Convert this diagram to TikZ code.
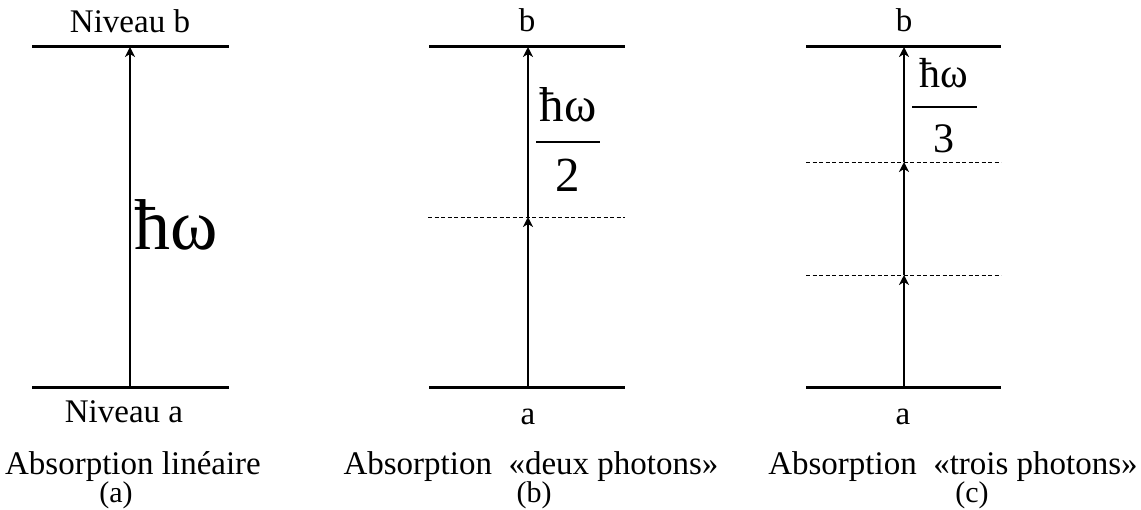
\documentclass[tikz,border=0pt]{standalone}
\usepackage{fontspec}
\setmainfont{Liberation Serif}
\usetikzlibrary{arrows.meta}
\begin{document}
\begin{tikzpicture}[x=1pt,y=-1pt,
  level/.style={line width=3pt},
  virt/.style={line width=0.9pt, dash pattern=on 4pt off 2.5pt},
  trans/.style={line width=1.8pt, -{Stealth[length=10pt,width=10pt,inset=3pt]}},
  lab/.style={inner sep=0pt, anchor=base, font=\fontsize{33}{40}\selectfont},
  tag/.style={inner sep=0pt, anchor=base, font=\fontsize{30}{36}\selectfont},
  big/.style={inner sep=0pt, anchor=base, font=\fontsize{72}{80}\selectfont},
  medf/.style={inner sep=0pt, anchor=base, font=\fontsize{49}{56}\selectfont},
  smlf/.style={inner sep=0pt, anchor=base, font=\fontsize{42}{48}\selectfont},
  bar/.style={line width=1.8pt}]
\useasboundingbox (0,0) rectangle (1141,510);

% ---------- (a) ----------
\draw[level] (32,47) -- (229,47);
\draw[level] (32,388) -- (229,388);
\coordinate (a0) at (130,388);
\coordinate (a1) at (130,47);
\draw[trans] (a0) -- (a1);
\node[lab] (nb) at (130,33) {Niveau b};
\node[lab] (na) at (124,423) {Niveau a};
\node[big, anchor=base west] (hwa) at (134,250) {ħω};
\node[lab] (ta) at (133,475) {Absorption linéaire};
\node[tag] (la) at (116,503) {(a)};

% ---------- (b) ----------
\draw[level] (429,47) -- (625,47);
\draw[level] (429,388) -- (625,388);
\draw[virt] (428,217) -- (625,217);
\coordinate (b0) at (528,388);
\coordinate (b1) at (528,217);
\coordinate (b2) at (528,47);
\draw[trans] (b0) -- (b1);
\draw[trans] (b1) -- (b2);
\node[lab] (bb) at (527,32) {b};
\node[lab] (ba) at (528,425) {a};
\node[medf] (hwb) at (568,122) {ħω};
\draw[bar] (536,142) -- (600,142);
\node[medf] (db) at (568,192) {2};
\node[lab] (tb) at (531,475) {Absorption\ \ «deux photons»};
\node[tag] (lb) at (534,503) {(b)};

% ---------- (c) ----------
\draw[level] (806,47) -- (1001,47);
\draw[level] (806,388) -- (1001,388);
\draw[virt] (806,162) -- (1001,162);
\draw[virt] (806,275) -- (1001,275);
\coordinate (c0) at (904,388);
\coordinate (c1) at (904,275);
\coordinate (c2) at (904,162);
\coordinate (c3) at (904,47);
\draw[trans] (c0) -- (c1);
\draw[trans] (c1) -- (c2);
\draw[trans] (c2) -- (c3);
\node[lab] (cb) at (904,32) {b};
\node[lab] (ca) at (903,425) {a};
\node[smlf] (hwc) at (944,88) {ħω};
\draw[bar] (912,107) -- (977,107);
\node[smlf] (dc) at (944,153) {3};
\node[lab] (tc) at (953,475) {Absorption\ \ «trois photons»};
\node[tag] (lc) at (972,503) {(c)};
\end{tikzpicture}
\end{document}
